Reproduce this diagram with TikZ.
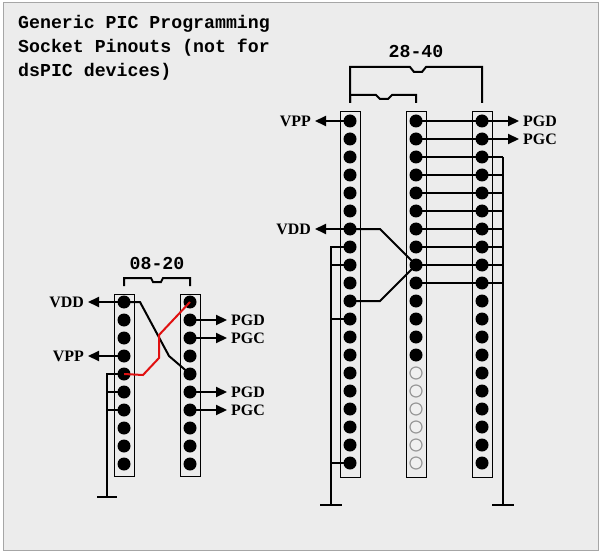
\documentclass[tikz,border=0pt]{standalone}
\usepackage{fontspec}
\newfontfamily\monof{Liberation Mono}
\newfontfamily\serf{Liberation Serif}
\usetikzlibrary{arrows.meta}
\definecolor{bg}{HTML}{ECECEC}
\definecolor{wred}{HTML}{E01010}
\begin{document}
\begin{tikzpicture}[x=1bp,y=-1bp,
  pin/.style={circle,fill=black,inner sep=0,minimum size=13bp},
  gpin/.style={circle,fill=bg!80!white,draw=gray!80,line width=1.2bp,inner sep=0,minimum size=12bp},
  sock/.style={draw=black,line width=0.8bp,fill=bg},
  wire/.style={line width=2bp},
  arr/.style={line width=2bp,-{Triangle[length=11bp,width=10bp]}},
  lab/.style={font=\serf\bfseries\fontsize{16}{16}\selectfont,inner sep=0},
  mono/.style={font=\monof\bfseries\fontsize{18.3}{24}\selectfont,inner sep=0},
  gnd/.style={line width=2.4bp}]
\useasboundingbox (0,0) rectangle (603,555);
\fill[white] (0,0) rectangle (603,555);
\filldraw[fill=bg,draw=gray!70,line width=1bp] (3,3) rectangle (598,550);
\node[mono,anchor=north west,align=left] (title) at (18,15) {Generic PIC Programming\\Socket Pinouts (not for\\dsPIC devices)};
% ---------- small socket
\draw[sock] (114,294) rectangle (134,476);
\draw[sock] (180,294) rectangle (200,476);
\foreach \i in {1,...,10}{
  \node[pin] (a\i) at (124,{302+(\i-1)*18}) {};
  \node[pin] (b\i) at (190,{302+(\i-1)*18}) {};
}
\node[mono] (s1) at (157,263) {08-20};
\draw[wire] (124,286) -- (124,278) -- (151,278) -- (153,282) -- (161,282) -- (163,278) -- (190,278) -- (190,286);
\node[lab,anchor=east] (vdd1) at (84,302) {VDD};
\node[lab,anchor=east] (vpp1) at (84,356) {VPP};
\draw[arr] (a1.center) -- (88,302);
\draw[arr] (a4.center) -- (88,356);
\foreach \p/\t in {2/PGD,3/PGC,6/PGD,7/PGC}{
  \node[lab,anchor=west] (l\p) at (231,{302+(\p-1)*18}) {\t};
  \draw[arr] (b\p.center) -- ([xshift=-4]l\p.west);
}
\draw[wire] (a1.center) -- (140,302) -- (169,356) -- (b5.center);
\draw[wire,wred] (a5.center) -- (143,375) -- (159,358) -- (159,335) -- (b1.center);
\coordinate (g1) at (107,497);
\draw[wire] (a5.center) -- (107,374) -- (g1);
\draw[wire] (a6.center) -- (107,392);
\draw[wire] (a7.center) -- (107,410);
\draw[gnd] ([xshift=-10]g1) -- ([xshift=10]g1);
% ---------- big sockets
\draw[sock] (340,111) rectangle (360,477);
\draw[sock] (406,111) rectangle (426,477);
\draw[sock] (472,111) rectangle (492,477);
\foreach \i in {1,...,20}{
  \node[pin] (c\i) at (350,{121+(\i-1)*18}) {};
  \node[pin] (e\i) at (482,{121+(\i-1)*18}) {};
}
\foreach \i in {1,...,14}{\node[pin] (d\i) at (416,{121+(\i-1)*18}) {};}
\foreach \i in {15,...,20}{\node[gpin] (d\i) at (416,{121+(\i-1)*18}) {};}
\node[mono] (s2) at (416,51) {28-40};
\draw[wire] (350,103) -- (350,67) -- (410,67) -- (414,72) -- (422,72) -- (426,67) -- (482,67) -- (482,103);
\draw[wire] (350,103) -- (350,95) -- (376,95) -- (380,99) -- (388,99) -- (392,95) -- (416,95) -- (416,103);
\node[lab,anchor=east] (vpp2) at (311,121) {VPP};
\node[lab,anchor=east] (vdd2) at (311,229) {VDD};
\draw[arr] (c1.center) -- (315,121);
\draw[arr] (c7.center) -- (315,229);
\foreach \p/\t in {1/PGD,2/PGC}{
  \node[lab,anchor=west] (r\p) at (523,{121+(\p-1)*18}) {\t};
  \draw[wire] (d\p.center) -- (e\p.center);
  \draw[arr] (e\p.center) -- ([xshift=-4]r\p.west);
}
\coordinate (g3) at (503,505);
\foreach \p in {3,...,10}{\draw[wire] (d\p.center) -- (503,{121+(\p-1)*18});}
\draw[wire] (503,157) -- (g3);
\draw[gnd] ([xshift=-11]g3) -- ([xshift=11]g3);
\draw[wire] (c7.center) -- (380,229) -- (d9.center);
\draw[wire] (c11.center) -- (380,301) -- (d9.center);
\coordinate (g2) at (331,505);
\draw[wire] (c8.center) -- (331,247) -- (g2);
\draw[wire] (c9.center) -- (331,265);
\draw[wire] (c12.center) -- (331,319);
\draw[wire] (c20.center) -- (331,463);
\draw[gnd] ([xshift=-11]g2) -- ([xshift=11]g2);
\end{tikzpicture}
\end{document}
